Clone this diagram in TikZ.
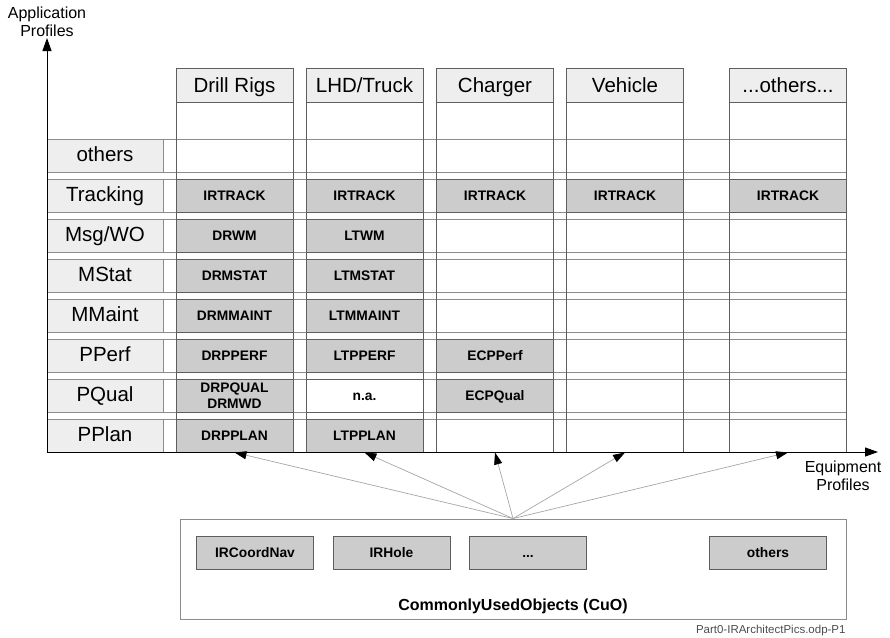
\documentclass[tikz,border=0pt]{standalone}
\usepackage{fontspec}
\setmainfont{Liberation Sans}
\usetikzlibrary{arrows.meta,positioning}

\definecolor{hdrfill}{HTML}{EEEEEE}
\definecolor{objfill}{HTML}{CCCCCC}
\definecolor{rowline}{HTML}{8C8C8C}
\definecolor{colline}{HTML}{5E5E5E}

\tikzset{
  rowbox/.style={draw=rowline,minimum width=799pt,minimum height=33pt,inner sep=0pt},
  rowlab/.style={draw=rowline,fill=hdrfill,minimum width=116pt,minimum height=33pt,inner sep=0pt,
    text height=12.6pt,text depth=0pt,font=\fontsize{20.5}{24}\selectfont},
  colbox/.style={draw=colline,minimum width=117pt,minimum height=384pt,inner sep=0pt},
  colhead/.style={draw=colline,fill=hdrfill,minimum width=117pt,minimum height=34pt,inner sep=0pt,
    text height=15pt,text depth=0pt,font=\fontsize{20.5}{24}\selectfont},
  obj/.style={draw=colline,fill=objfill,minimum width=117pt,minimum height=33pt,inner sep=0pt,
    text height=9pt,text depth=0pt,font=\bfseries\fontsize{13.8}{15.5}\selectfont},
  twoobj/.style={obj,text height=,text depth=,align=center},
  noobj/.style={obj,fill=none},
  axlab/.style={align=center,inner sep=0pt,font=\fontsize{16}{18}\selectfont},
  uses/.style={draw=gray!70,line width=0.7pt,-{Triangle[length=12pt,width=8pt,color=black]}},
}

\begin{document}
\begin{tikzpicture}[x=1pt,y=-1pt,line width=0.9pt,>={Triangle[length=13pt,width=9pt]}]
\useasboundingbox (0,0) rectangle (890,637);

% application profile rows
\node[rowbox] (rOth) at (446.5,155.5) {};
\node[rowbox] (rTrk) at (446.5,195.5) {};
\node[rowbox] (rMsg) at (446.5,235.5) {};
\node[rowbox] (rStat) at (446.5,275.5) {};
\node[rowbox] (rMaint) at (446.5,315.5) {};
\node[rowbox] (rPerf) at (446.5,355.5) {};
\node[rowbox] (rQual) at (446.5,395.5) {};
\node[rowbox] (rPlan) at (446.5,435.5) {};
\node[rowlab,anchor=west] at (rOth.west) {others};
\node[rowlab,anchor=west] at (rTrk.west) {Tracking};
\node[rowlab,anchor=west] at (rMsg.west) {Msg/WO};
\node[rowlab,anchor=west] at (rStat.west) {MStat};
\node[rowlab,anchor=west] at (rMaint.west) {MMaint};
\node[rowlab,anchor=west] at (rPerf.west) {PPerf};
\node[rowlab,anchor=west] at (rQual.west) {PQual};
\node[rowlab,anchor=west] at (rPlan.west) {PPlan};

% equipment profile columns
\node[colbox] (drill) at (234.5,260) {};
\node[colbox] (lhd) at (364.5,260) {};
\node[colbox] (charger) at (495,260) {};
\node[colbox] (vehicle) at (625,260) {};
\node[colbox] (other) at (788,260) {};
\node[colhead,anchor=north] at (drill.north) {Drill Rigs};
\node[colhead,anchor=north] at (lhd.north) {LHD/Truck};
\node[colhead,anchor=north] at (charger.north) {Charger};
\node[colhead,anchor=north] at (vehicle.north) {Vehicle};
\node[colhead,anchor=north] at (other.north) {...others...};

% profile objects
\node[obj] at (drill |- rTrk) {IRTRACK};
\node[obj] at (lhd |- rTrk) {IRTRACK};
\node[obj] at (charger |- rTrk) {IRTRACK};
\node[obj] at (vehicle |- rTrk) {IRTRACK};
\node[obj] at (other |- rTrk) {IRTRACK};
\node[obj] at (drill |- rMsg) {DRWM};
\node[obj] at (lhd |- rMsg) {LTWM};
\node[obj] at (drill |- rStat) {DRMSTAT};
\node[obj] at (lhd |- rStat) {LTMSTAT};
\node[obj] at (drill |- rMaint) {DRMMAINT};
\node[obj] at (lhd |- rMaint) {LTMMAINT};
\node[obj] at (drill |- rPerf) {DRPPERF};
\node[obj] at (lhd |- rPerf) {LTPPERF};
\node[obj] at (charger |- rPerf) {ECPPerf};
\node[twoobj] at (drill |- rQual) {DRPQUAL\\DRMWD};
\node[noobj] at (lhd |- rQual) {n.a.};
\node[obj] at (charger |- rQual) {ECPQual};
\node[obj] at (drill |- rPlan) {DRPPLAN};
\node[obj] at (lhd |- rPlan) {LTPPLAN};

% axes
\coordinate (orig) at (47,452);
\coordinate (ytip) at (47,38);
\coordinate (xtip) at (878,452);
\draw[->,line width=1pt] (orig) -- (ytip);
\draw[->,line width=1pt] (orig) -- (xtip);
\node[axlab,above=1pt of ytip] {Application\\Profiles};
\node[axlab] at (843,476) {Equipment\\Profiles};

% commonly used objects
\node[draw=rowline,minimum width=666pt,minimum height=100pt,inner sep=0pt] (cuo) at (513,569) {};
\node[obj] (nav) at (255,552.5) {IRCoordNav};
\node[obj] (hole) at (391.5,552.5) {IRHole};
\node[obj] (dots) at (528,552.5) {...};
\node[obj] (more) at (768,552.5) {others};
\node[font=\bfseries\fontsize{16}{18}\selectfont] at (513,606) {CommonlyUsedObjects (CuO)};
\node[anchor=east,inner sep=0pt,text=black!70,font=\fontsize{11.5}{13}\selectfont] at (846,631) {Part0-IRArchitectPics.odp-P1};

\draw[uses] (cuo.north) -- (drill.south);
\draw[uses] (cuo.north) -- (lhd.south);
\draw[uses] (cuo.north) -- (charger.south);
\draw[uses] (cuo.north) -- (vehicle.south);
\draw[uses] (cuo.north) -- (other.south);
\end{tikzpicture}
\end{document}
